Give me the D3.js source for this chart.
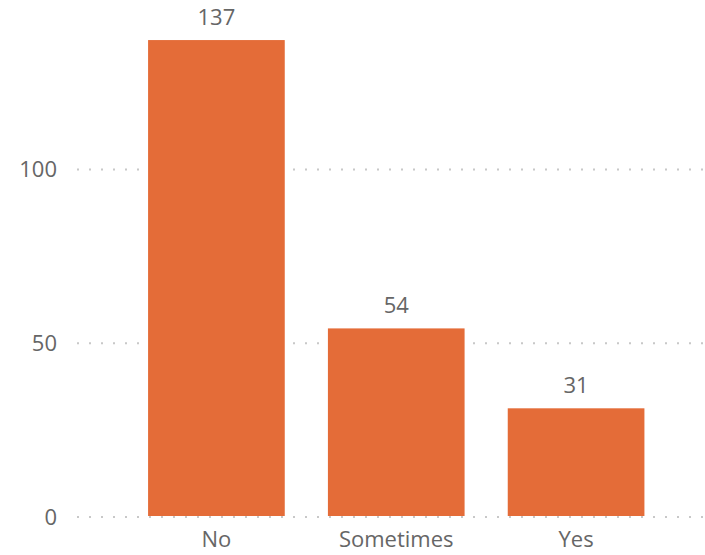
<!DOCTYPE html>
<html>
<head>
<meta charset="utf-8">
<script src="https://cdn.jsdelivr.net/npm/d3@7"></script>
<style>
  body { margin: 0; background: #fff; }
  text { font-family: "Open Sans", "Noto Sans", sans-serif; fill: #666; }
</style>
</head>
<body>
<div id="chart"></div>
<script>
// Data
var categories = ["No", "Sometimes", "Yes"];
var counts = [137, 54, 31];
var yTicks = [0, 50, 100];

var width = 705, height = 555;

var svg = d3.select("#chart").append("svg")
    .attr("width", width)
    .attr("height", height);

// Scales
var xScale = d3.scaleBand()
    .domain(categories)
    .range([126.5, 666])
    .paddingInner(0.24)
    .paddingOuter(0.12);
var yScale = d3.scaleLinear()
    .domain([0, 100])
    .range([516, 168.6]);

// Gridlines
svg.append("g")
    .selectAll("line")
    .data(yTicks)
    .enter()
    .append("line")
    .attr("x1", 77)
    .attr("x2", 705)
    .attr("y1", d => yScale(d) + 1)
    .attr("y2", d => yScale(d) + 1)
    .style("stroke", "#c8c8c8")
    .style("stroke-width", 2)
    .style("stroke-dasharray", "2,10");

// Y axis labels
svg.append("g")
    .selectAll("text")
    .data(yTicks)
    .enter()
    .append("text")
    .attr("x", 57)
    .attr("y", d => yScale(d) + 1)
    .attr("dy", "0.35em")
    .attr("text-anchor", "end")
    .style("font-size", "22px")
    .text(d => d);

// Bars
svg.append("g")
    .selectAll("rect")
    .data(counts)
    .enter()
    .append("rect")
    .attr("x", (d, i) => xScale(categories[i]))
    .attr("width", xScale.bandwidth())
    .attr("y", d => yScale(d))
    .attr("height", d => yScale(0) - yScale(d))
    .style("fill", "#E46C38");

// Value labels
svg.append("g")
    .selectAll("text")
    .data(counts)
    .enter()
    .append("text")
    .attr("x", (d, i) => xScale(categories[i]) + xScale.bandwidth() / 2)
    .attr("y", d => yScale(d) - 15)
    .attr("text-anchor", "middle")
    .style("font-size", "22px")
    .text(d => d);

// X axis labels
svg.append("g")
    .selectAll("text")
    .data(categories)
    .enter()
    .append("text")
    .attr("x", d => xScale(d) + xScale.bandwidth() / 2)
    .attr("y", 547)
    .attr("text-anchor", "middle")
    .style("font-size", "22px")
    .text(d => d);
</script>
</body>
</html>
